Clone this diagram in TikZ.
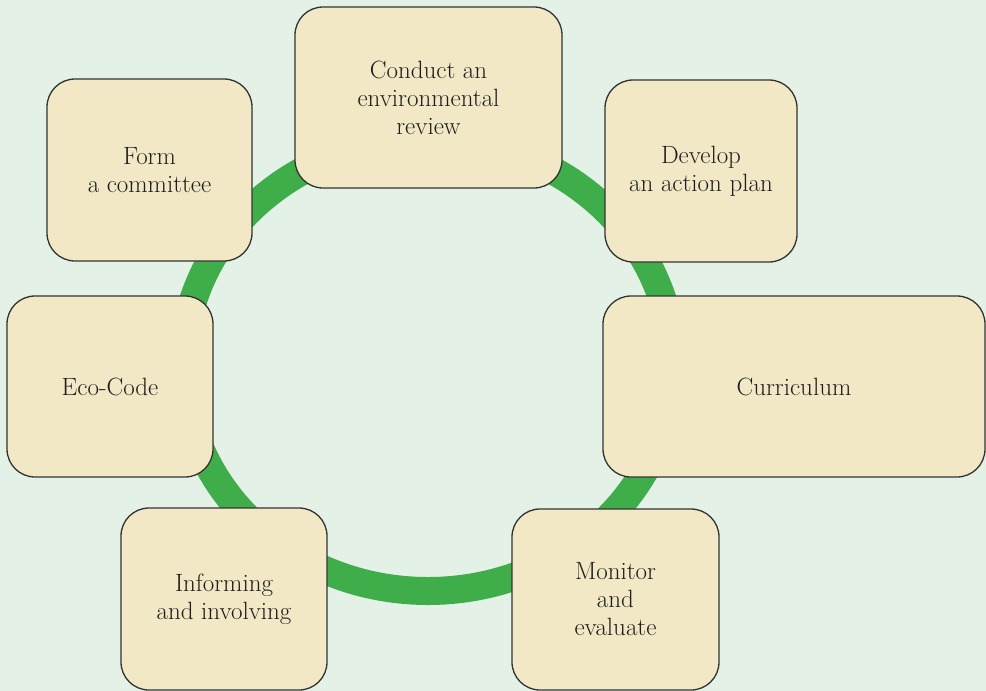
\documentclass[tikz,border=0pt]{standalone}
\usepackage{tikz}
\definecolor{bgcol}{HTML}{E3F1E6}
\definecolor{boxcol}{HTML}{F2E8C6}
\definecolor{ringcol}{HTML}{3FAE4A}
\definecolor{bordercol}{HTML}{333333}
\definecolor{textcol}{HTML}{1E1E1E}
\tikzset{
  stagebox/.style={draw=bordercol, fill=boxcol, line width=1.3pt, rounded corners=28pt,
    align=center, inner sep=0pt, text=textcol,
    font=\fontsize{25}{28}\selectfont},
  ring/.style={draw=ringcol, line width=28pt}
}
\begin{document}
\begin{tikzpicture}[x=1pt,y=-1pt]
\useasboundingbox (0,0) rectangle (986,691);
\fill[bgcol] (0,0) rectangle (986,691);
\coordinate (centre) at (428,365);
\draw[ring] (centre) ellipse [x radius=245pt, y radius=226pt];
\node[stagebox, minimum width=205pt, minimum height=182pt] (form) at (149.5,170) {Form\\a committee};
\node[stagebox, minimum width=267pt, minimum height=181pt] (conduct) at (428.5,97.5) {Conduct an\\environmental\\review};
\node[stagebox, minimum width=192pt, minimum height=182pt] (develop) at (701,171) {Develop\\an action plan};
\node[stagebox, minimum width=206pt, minimum height=181pt] (eco) at (110,386.5) {Eco-Code};
\node[stagebox, minimum width=382pt, minimum height=181pt] (curr) at (794,386.5) {Curriculum};
\node[stagebox, minimum width=206pt, minimum height=182pt] (inform) at (224,599) {Informing\\and involving};
\node[stagebox, minimum width=207pt, minimum height=181pt] (monitor) at (615.5,599.5) {Monitor\\and\\evaluate};
\end{tikzpicture}
\end{document}
